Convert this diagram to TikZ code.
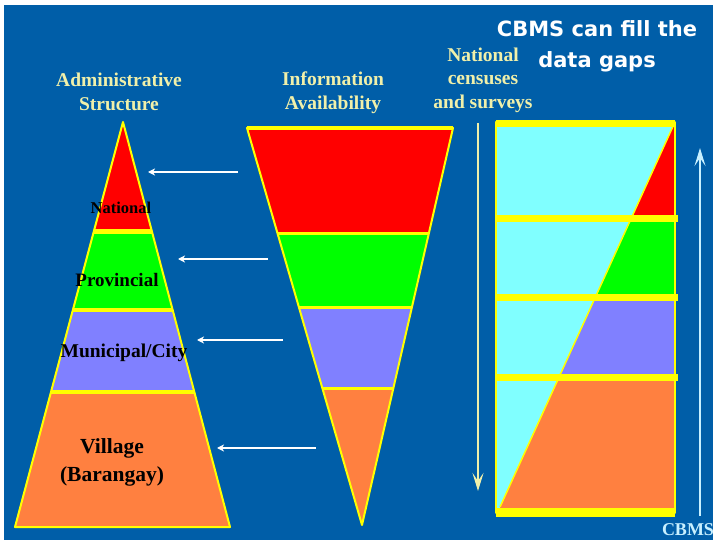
\documentclass[tikz,border=0pt]{standalone}
\usepackage{fontspec}
\setmainfont{Liberation Serif}
\newfontfamily\headfont{DejaVu Sans}
\usepackage{tikz}
\usetikzlibrary{calc,arrows.meta}

\definecolor{bgblue}{RGB}{0,94,168}
\definecolor{bandred}{RGB}{255,0,0}
\definecolor{bandgreen}{RGB}{0,255,0}
\definecolor{bandpurple}{RGB}{128,128,255}
\definecolor{bandorange}{RGB}{255,128,64}
\definecolor{gapcyan}{RGB}{128,255,255}
\definecolor{edgeyellow}{RGB}{255,255,0}
\definecolor{titleyellow}{RGB}{240,240,170}
\definecolor{uparrow}{RGB}{200,240,255}

\begin{document}
\begin{tikzpicture}[x=1pt,y=-1pt,
    titletext/.style={text=titleyellow,font=\bfseries\fontsize{19.5}{24}\selectfont,align=center},
    leveltext/.style={text=black,font=\bfseries\fontsize{19}{28}\selectfont,align=center},
    whitearrow/.style={draw=white,line width=2pt,-{Stealth[length=7pt,width=7pt,inset=2pt]}},
    rim/.style={draw=edgeyellow,line width=2pt,line join=round},
    bar/.style={draw=edgeyellow,line width=7pt}]
                    \useasboundingbox (0,0) rectangle (713,540);
                    \fill[white] (0,0) rectangle (713,540);
                    \fill[bgblue] (4,5) rectangle (713,540);

                    % administrative pyramid
                    \coordinate (apx) at (123,122);
                    \coordinate (bl) at (15,527);
                    \coordinate (br) at (230,527);
                    \foreach \ta/\tb/\col in {0/0.2716/bandred,0.2716/0.4642/bandgreen,0.4642/0.6667/bandpurple,0.6667/1/bandorange}
                        \fill[\col] ($(apx)!\ta!(bl)$) -- ($(apx)!\tb!(bl)$) -- ($(apx)!\tb!(br)$) -- ($(apx)!\ta!(br)$) -- cycle;
                    \draw[rim] (apx) -- (bl) -- (br) -- cycle;
                    \draw[edgeyellow,line width=5pt] ($(apx)!0.2716!(bl)$) -- ($(apx)!0.2716!(br)$);
                    \foreach \t in {0.4642,0.6667}
                        \draw[edgeyellow,line width=3.5pt] ($(apx)!\t!(bl)$) -- ($(apx)!\t!(br)$);

                    \node[leveltext,font=\bfseries\fontsize{16.5}{18}\selectfont] (lvnat) at (121,208) {National};
                    \node[leveltext] (lvprov) at (117,280) {Provincial};
                    \node[leveltext,font=\bfseries\fontsize{19.5}{20}\selectfont] (lvmun) at (124,353) {Municipal/City};
                    \node[leveltext,font=\bfseries\fontsize{21.5}{28}\selectfont] (lvvil) at (112,462) {Village\\(Barangay)};

                    % information funnel
                    \coordinate (fl) at (247,128);
                    \coordinate (fr) at (453,128);
                    \coordinate (tip) at (362,525);
                    \foreach \ta/\tb/\col in {0/0.2645/bandred,0.2645/0.4509/bandgreen,0.4509/0.6574/bandpurple,0.6574/1/bandorange}
                        \fill[\col] ($(fl)!\ta!(tip)$) -- ($(fl)!\tb!(tip)$) -- ($(fr)!\tb!(tip)$) -- ($(fr)!\ta!(tip)$) -- cycle;
                    \draw[rim] (fl) -- (fr) -- (tip) -- cycle;
                    \draw[edgeyellow,line width=4pt] (fl) -- (fr);
                    \foreach \t in {0.2645,0.4509,0.6574}
                        \draw[edgeyellow,line width=3pt] ($(fl)!\t!(tip)$) -- ($(fr)!\t!(tip)$);

                    \foreach \y/\xa/\xb [count=\i] in {172/238/148,259/268/178,340/283/197,448/316/217} {
                        \coordinate (s\i) at (\xa,\y);
                        \coordinate (e\i) at (\xb,\y);
                        \draw[whitearrow] (s\i) -- (e\i);
                    }

                    % data gap panel
                    \coordinate (dgA) at (500,507);
                    \coordinate (dgB) at (675,122);
                    \fill[gapcyan] (496,122) rectangle (675,513);
                    \foreach \ya/\yb/\col in {122/219/bandred,219/298/bandgreen,298/378/bandpurple,378/513/bandorange} {
                        \begin{scope}
                            \clip (496,\ya) rectangle (675,\yb);
                            \fill[\col] (dgA) -- (dgB) -- (675,513) -- (500,513) -- cycle;
                        \end{scope}
                    }
                    \draw[edgeyellow,line width=1.5pt] (dgA) -- (dgB);
                    \draw[rim] (496,122) rectangle (675,513);
                    \draw[bar] (496,123.5) -- (675,123.5);
                    \foreach \y in {219,298,378} \draw[bar] (496,\y) -- (678,\y);
                    \draw[edgeyellow,line width=9pt] (496,512) -- (675,512);

                    \coordinate (dnA) at (478,123);
                    \coordinate (dnB) at (478,491);
                    \draw[titleyellow,line width=2.5pt,-{Stealth[length=18pt,width=11pt,inset=8pt]}] (dnA) -- (dnB);
                    \coordinate (upA) at (700,516);
                    \coordinate (upB) at (700,148);
                    \draw[uparrow,line width=2.5pt,-{Stealth[length=18pt,width=11pt,inset=8pt]}] (upA) -- (upB);

                    % headings
                    \node[titletext] (admtitle) at (119,92) {Administrative\\Structure};
                    \node[titletext] (infotitle) at (333,93) {Information\\Availability};
                    \node[titletext,font=\bfseries\fontsize{19.5}{23.5}\selectfont] (nattitle) at (483,80) {National\\censuses\\and surveys};
                    \node[text=white,font=\headfont\bfseries\fontsize{21}{31}\selectfont,align=center] (gaptitle) at (597,46) {CBMS can fill the\\data gaps};
                    \node[text=uparrow,font=\bfseries\fontsize{18}{18}\selectfont] (cbmslabel) at (688,530) {CBMS};
                \end{tikzpicture}
\end{document}
